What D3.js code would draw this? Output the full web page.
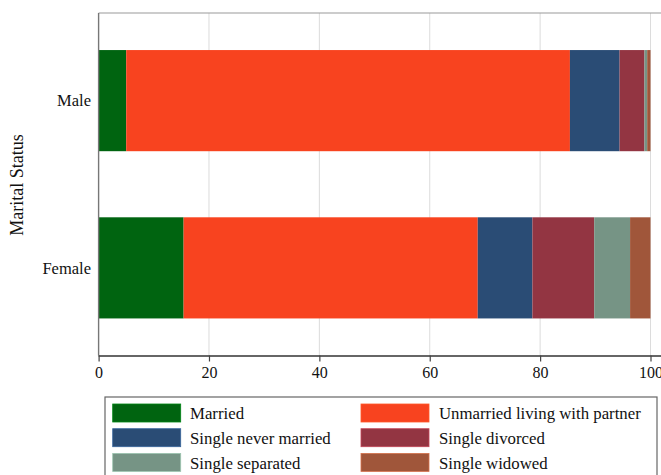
<!DOCTYPE html>
<html>
<head>
<meta charset="utf-8">
<script src="https://cdn.jsdelivr.net/npm/d3@7"></script>
<style>
  html, body { margin: 0; padding: 0; background: #fff; }
  svg { display: block; font-family: "Liberation Serif", "DejaVu Serif", serif; }
</style>
</head>
<body>
<svg id="chart" width="661" height="475"></svg>
<script>
// ---- data ----
const categories = ["Male", "Female"];
const seriesNames = ["Married", "Unmarried living with partner", "Single never married",
                     "Single divorced", "Single separated", "Single widowed"];
const married       = [5.0, 15.4];
const unmarried     = [80.4, 53.3];
const neverMarried  = [9.0, 9.9];
const divorced      = [4.5, 11.2];
const separated     = [0.5, 6.5];
const widowed       = [0.6, 3.7];
const xTicks = [0, 20, 40, 60, 80, 100];
const yTitle = "Marital Status";

// ---- styles ----
const colors = ["#006410", "#F8431F", "#2A4C75", "#933542", "#769485", "#A0563A"];

const seriesValues = [married, unmarried, neverMarried, divorced, separated, widowed];
const rows = categories.map((c, i) => {
  const r = { cat: c };
  seriesNames.forEach((s, j) => r[s] = seriesValues[j][i]);
  return r;
});
const stacked = d3.stack().keys(seriesNames)(rows);

const svg = d3.select("#chart");
const plotTop = 13, plotBottom = 355.5, plotLeft = 98.6;

const x = d3.scaleLinear().domain([0, 100]).range([plotLeft, 650.5]);
const y = d3.scaleBand().domain(categories).range([plotTop, plotBottom])
  .paddingInner(0.3952).paddingOuter(0.2216);
const color = d3.scaleOrdinal().domain(seriesNames).range(colors);

// gridlines
svg.append("g").selectAll("line").data(xTicks.filter(t => t > 0)).join("line")
  .attr("x1", d => x(d)).attr("x2", d => x(d))
  .attr("y1", plotTop).attr("y2", plotBottom)
  .attr("stroke", "#dcdcdc").attr("stroke-width", 1);

// top frame line
svg.append("line").attr("x1", plotLeft).attr("x2", 661)
  .attr("y1", plotTop).attr("y2", plotTop)
  .attr("stroke", "#9a9a9a").attr("stroke-width", 1.2);

// bars
svg.append("g").selectAll("g").data(stacked).join("g")
  .attr("fill", d => color(d.key))
  .selectAll("rect").data(d => d).join("rect")
  .attr("x", d => x(d[0]))
  .attr("width", d => x(d[1]) - x(d[0]))
  .attr("y", d => y(d.data.cat))
  .attr("height", y.bandwidth());

// left axis line
svg.append("line").attr("x1", plotLeft).attr("x2", plotLeft)
  .attr("y1", plotTop).attr("y2", plotBottom)
  .attr("stroke", "#777").attr("stroke-width", 1.4);

// category labels
svg.append("g").selectAll("text").data(categories).join("text")
  .attr("x", 91).attr("y", d => y(d) + y.bandwidth() / 2)
  .attr("dy", "0.35em").attr("text-anchor", "end")
  .attr("font-size", 16.5).attr("fill", "#111").text(d => d);

// y title
svg.append("text")
  .attr("transform", "translate(23,185) rotate(-90)")
  .attr("text-anchor", "middle").attr("font-size", 18).attr("fill", "#111")
  .text(yTitle);

// x axis
const xAxis = d3.axisBottom(x).tickValues(xTicks).tickSize(6).tickPadding(5).tickSizeOuter(0);
const gx = svg.append("g").attr("transform", `translate(0,${plotBottom})`).call(xAxis);
gx.select(".domain").attr("stroke", "#333").attr("stroke-width", 1.6)
  .attr("d", `M${plotLeft},0.5H661`);
gx.selectAll(".tick line").attr("stroke", "#444").attr("stroke-width", 1.2);
gx.selectAll(".tick text").attr("font-size", 16).attr("fill", "#111")
  .attr("font-family", "Liberation Serif, DejaVu Serif, serif");

// legend
const lg = svg.append("g");
lg.append("rect").attr("x", 105).attr("y", 397).attr("width", 552).attr("height", 90)
  .attr("fill", "#fff").attr("stroke", "#666").attr("stroke-width", 1.2);
const colX = [112.7, 361], textX = [190, 439];
seriesNames.forEach((s, i) => {
  const c = i % 2, r = Math.floor(i / 2);
  const yy = 404 + r * 24.7;
  lg.append("rect").attr("x", colX[c]).attr("y", yy).attr("width", 68).attr("height", 18)
    .attr("fill", color(s)).attr("stroke", d3.color(color(s)).brighter(0.8)).attr("stroke-width", 0.8);
  lg.append("text").attr("x", textX[c]).attr("y", yy + 9).attr("dy", "0.38em")
    .attr("font-size", 16.8).attr("fill", "#111").text(s);
});
</script>
</body>
</html>
